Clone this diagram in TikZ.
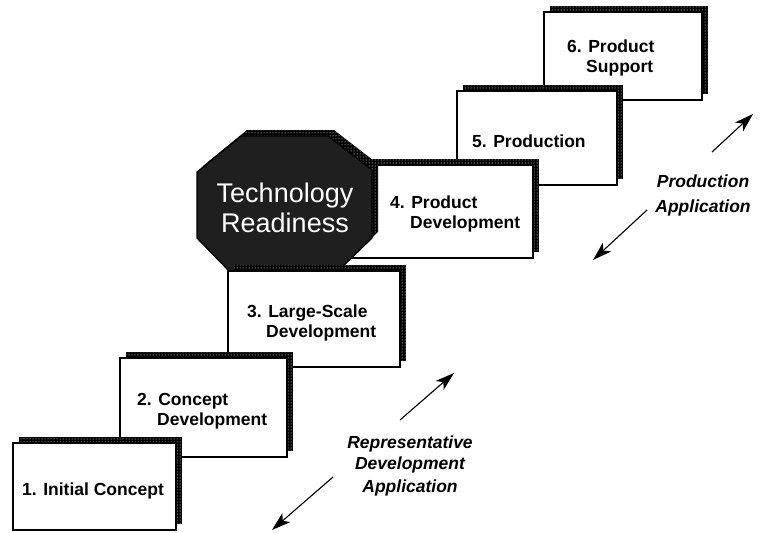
\documentclass[tikz,border=0pt]{standalone}
\usepackage{fontspec}
\setmainfont{Liberation Sans}
\usetikzlibrary{patterns,arrows.meta,fit}
\begin{document}
\begin{tikzpicture}[x=1pt,y=-1pt,
  shadowband/.style={preaction={fill=black}, pattern=dots, pattern color=white},
  stepbox/.style={draw=black, line width=1.3pt, fill=white, inner sep=0pt, outer sep=0pt},
  lbl/.style={anchor=base west, inner sep=0pt, font=\fontsize{17.5}{20}\selectfont\bfseries},
  ital/.style={anchor=base, inner sep=0pt, font=\fontsize{17.5}{21}\selectfont\bfseries\itshape},
  big/.style={anchor=base, inner sep=0pt, text=white, font=\fontsize{27}{30}\selectfont},
  arr/.style={line width=1.1pt, -{Stealth[length=19pt,width=12pt,inset=5pt]}}]
\useasboundingbox (0,0) rectangle (759,532);
\newcommand\mystep[5]{%
  \fill[shadowband] (#2+6,#3-6) rectangle (#4+6,#5-6);
  \coordinate (#1a) at (#2,#3);
  \coordinate (#1b) at (#4,#5);
  \node[stepbox, fit={(#1a) (#1b)}] (#1) {};}
% box 6
\mystep{b6}{544}{12}{702}{100}
\node[lbl] (t6a) at (567,53) {6. Product};
\node[lbl] (t6b) at (586,73) {Support};
% box 5
\mystep{b5}{457}{91}{617}{185}
\node[lbl] (t5a) at (472,147) {5. Production};
% box 4
\mystep{b4}{345}{165}{533}{258}
\node[lbl] (t4a) at (390,208) {4. Product};
\node[lbl] (t4b) at (410,228) {Development};
% octagon
\fill[shadowband] (247,130) -- (334,130) -- (378,164) -- (378,232) -- (343,266) -- (236,266) -- (203,232) -- (203,166) -- cycle;
\filldraw[fill=black!88, draw=black, line width=1.3pt] (241,136) -- (328,136) -- (372,170) -- (372,238) -- (337,272) -- (230,272) -- (197,238) -- (197,172) -- cycle;
\node[big] (tr1) at (285,202) {Technology};
\node[big] (tr2) at (285,232) {Readiness};
% box 3
\mystep{b3}{228}{271}{400}{367}
\node[lbl] (t3a) at (247,317) {3. Large-Scale};
\node[lbl] (t3b) at (266,337) {Development};
% box 2
\mystep{b2}{120}{358}{287}{457}
\node[lbl] (t2a) at (137,405) {2. Concept};
\node[lbl] (t2b) at (157,425) {Development};
% box 1
\mystep{b1}{13}{443}{176}{530}
\node[lbl] (t1a) at (22,495) {1. Initial Concept};
% italic labels
\node[ital] (pa1) at (703,187) {Production};
\node[ital] (pa2) at (703,212) {Application};
\node[ital] (ra1) at (410,448) {Representative};
\node[ital] (ra2) at (410,469) {Development};
\node[ital] (ra3) at (410,492) {Application};
% arrows
\coordinate (p1s) at (712,152); \coordinate (p1e) at (753,114);
\coordinate (p2s) at (647,210); \coordinate (p2e) at (593,260);
\coordinate (r1s) at (400,420); \coordinate (r1e) at (454,373);
\coordinate (r2s) at (333,477); \coordinate (r2e) at (272,530);
\draw[arr] (p1s) -- (p1e);
\draw[arr] (p2s) -- (p2e);
\draw[arr] (r1s) -- (r1e);
\draw[arr] (r2s) -- (r2e);
\end{tikzpicture}
\end{document}
